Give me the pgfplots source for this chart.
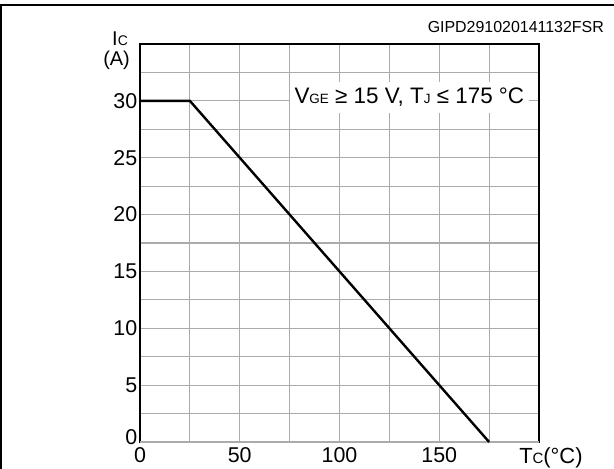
\documentclass[border=0pt]{standalone}
\usepackage{fontspec}
\setmainfont{Liberation Sans}
\usepackage{pgfplots}
\pgfplotsset{compat=1.18}
\begin{document}
\begin{tikzpicture}
\useasboundingbox (0,0) rectangle (614bp,469bp);
\draw[line width=2bp] (1bp,0) -- (1bp,463.5bp) -- (614bp,463.5bp);
\node[anchor=base east, font=\fontsize{16}{18}\selectfont, inner sep=0pt] at (604bp,436bp) {GIPD291020141132FSR};
\begin{axis}[
  at={(140bp,27bp)}, anchor=south west,
  scale only axis, width=399bp, height=398bp,
  xmin=0, xmax=200, ymin=0, ymax=35,
  xtick={0,50,100,150}, minor xtick={25,75,125,175},
  ytick={5,10,15,20,25,30}, minor ytick={2.5,7.5,12.5,17.5,22.5,27.5,32.5},
  extra y ticks={0}, extra y tick style={yticklabel style={yshift=5bp}},
  grid=both,
  major grid style={line width=1.1bp, black!33},
  minor grid style={line width=1.1bp, black!33},
  axis line style={line width=2.8bp},
  major tick length=0pt, minor tick length=0pt,
  tick label style={font=\fontsize{21.5}{23}\selectfont, inner sep=2.5bp},
  xticklabel style={yshift=-3bp},
  /pgf/number format/assume math mode=true,
  clip=false,
]
\addplot[black, line width=2.4bp] coordinates {(0,30) (25,30) (175,0)};
\node[fill=white, inner xsep=5bp, inner ysep=6bp, font=\fontsize{22.5}{25}\selectfont] at (axis cs:135,30.3)
  {V{\fontsize{13.5}{14}\selectfont GE} ≥ 15 V, T{\fontsize{13.5}{14}\selectfont J} ≤ 175 °C};
\node[anchor=base east, inner sep=0pt, font=\fontsize{20}{22}\selectfont] at (axis cs:-6,34.85) {I{\fontsize{14}{15}\selectfont C}};
\node[anchor=east, inner sep=0pt, font=\fontsize{20}{22}\selectfont] at (axis cs:-5,33.6) {(A)};
\node[anchor=north west, inner sep=0pt, font=\fontsize{22}{24}\selectfont] at (axis cs:190,-0.45) {T{\fontsize{15}{16}\selectfont C}(°C)};
\end{axis}
\end{tikzpicture}
\end{document}
